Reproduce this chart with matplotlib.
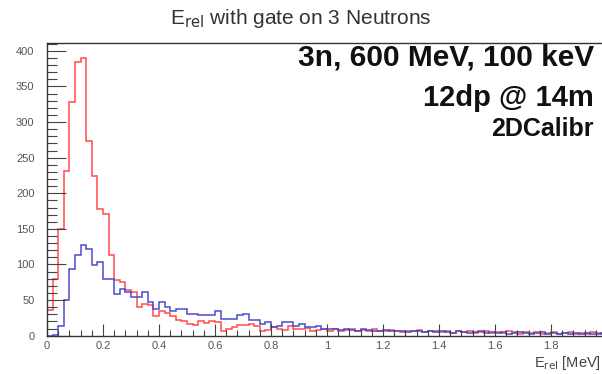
import numpy as np
import matplotlib
matplotlib.use("Agg")
import matplotlib.pyplot as plt
from matplotlib.ticker import MultipleLocator, FixedLocator, FixedFormatter

plt.rcParams['font.family'] = ['Liberation Sans', 'DejaVu Sans']

# Relative-energy histogram, 100 bins from 0 to 2 MeV
e_min, e_max, n_bins = 0.0, 2.0, 100

counts_red = [
    36, 80, 150, 231, 328, 385, 390, 273, 224, 178,
    171, 113, 78, 76, 64, 62, 40, 45, 43, 27,
    34, 32, 27, 22, 20, 17, 15, 20, 18, 20,
    19, 6, 10, 12, 15, 15, 17, 14, 6, 8,
    12, 10, 8, 13, 10, 9, 11, 7, 8, 10,
    7, 9, 6, 8, 9, 7, 8, 6, 9, 7,
    6, 8, 7, 5, 7, 6, 8, 5, 6, 7,
    5, 6, 4, 6, 5, 7, 4, 5, 6, 4,
    5, 4, 6, 5, 3, 5, 4, 5, 3, 4,
    5, 3, 4, 5, 3, 4, 3, 5, 4, 3,
]
counts_blue = [
    0, 1, 13, 50, 94, 113, 127, 122, 99, 103,
    80, 80, 59, 66, 61, 55, 55, 61, 48, 38,
    48, 40, 34, 38, 38, 30, 30, 29, 29, 29,
    34, 24, 24, 24, 29, 31, 22, 22, 17, 19,
    12, 14, 19, 19, 14, 16, 12, 12, 13, 10,
    10, 9, 8, 10, 8, 7, 9, 8, 6, 7,
    8, 6, 7, 6, 5, 7, 6, 5, 6, 5,
    6, 5, 4, 6, 5, 4, 5, 6, 4, 5,
    4, 5, 3, 4, 5, 4, 3, 4, 5, 3,
    4, 3, 4, 3, 4, 3, 4, 3, 3, 4,
]

x_ticks = [0, 0.2, 0.4, 0.6, 0.8, 1.0, 1.2, 1.4, 1.6, 1.8]
x_tick_labels = ["0", "0.2", "0.4", "0.6", "0.8", "1", "1.2", "1.4", "1.6", "1.8"]
y_ticks = [0, 50, 100, 150, 200, 250, 300, 350, 400]
y_tick_labels = ["0", "50", "100", "150", "200", "250", "300", "350", "400"]

title = r"E$_{\rm rel}$ with gate on 3 Neutrons"
x_label = r"E$_{\rm rel}$ [MeV]"
info_lines = ["3n, 600 MeV, 100 keV", "12dp @ 14m", "2DCalibr"]
info_sizes = [21.5, 21, 18]

edges = np.linspace(e_min, e_max, n_bins + 1)

fig = plt.figure(figsize=(6.02, 3.74), dpi=100)
ax = fig.add_axes([47 / 602, 38.3 / 374, 560 / 602, 292.7 / 374])

ax.stairs(counts_red, edges, color="#ff4a4a", linewidth=1.1, baseline=None)
ax.stairs(counts_blue, edges, color="#4a4ad0", linewidth=1.1, baseline=None)

ax.set_xlim(e_min, e_max)
ax.set_ylim(0, 411)

ax.xaxis.set_major_locator(FixedLocator(x_ticks))
ax.xaxis.set_major_formatter(FixedFormatter(x_tick_labels))
ax.xaxis.set_minor_locator(MultipleLocator(0.04))
ax.yaxis.set_major_locator(FixedLocator(y_ticks))
ax.yaxis.set_major_formatter(FixedFormatter(y_tick_labels))
ax.yaxis.set_minor_locator(MultipleLocator(10))

ax.tick_params(axis="both", which="both", direction="in", colors="#444444",
               labelcolor="#555555", labelsize=8, width=0.8)
ax.tick_params(axis="x", which="major", length=9, pad=4)
ax.tick_params(axis="x", which="minor", length=4.5)
ax.tick_params(axis="y", which="major", length=14, pad=9)
ax.tick_params(axis="y", which="minor", length=7)
ax.tick_params(top=False, right=False, which="both")

for sp in ax.spines.values():
    sp.set_color("#333333")
    sp.set_linewidth(1.0)

fig.text(0.5, 1 - 18 / 374, title, ha="center", va="center",
         fontsize=15, color="#333333")

fig.text(601 / 602, 1 - 363 / 374, x_label, ha="right", va="center",
         fontsize=10.5, color="#444444")

y_pos = [58, 98, 129]
for line, size, yp in zip(info_lines, info_sizes, y_pos):
    fig.text(594 / 602, 1 - yp / 374, line, ha="right", va="center",
             fontsize=size, fontweight="bold", color="#111111")

fig.savefig("out.png", dpi=100)
